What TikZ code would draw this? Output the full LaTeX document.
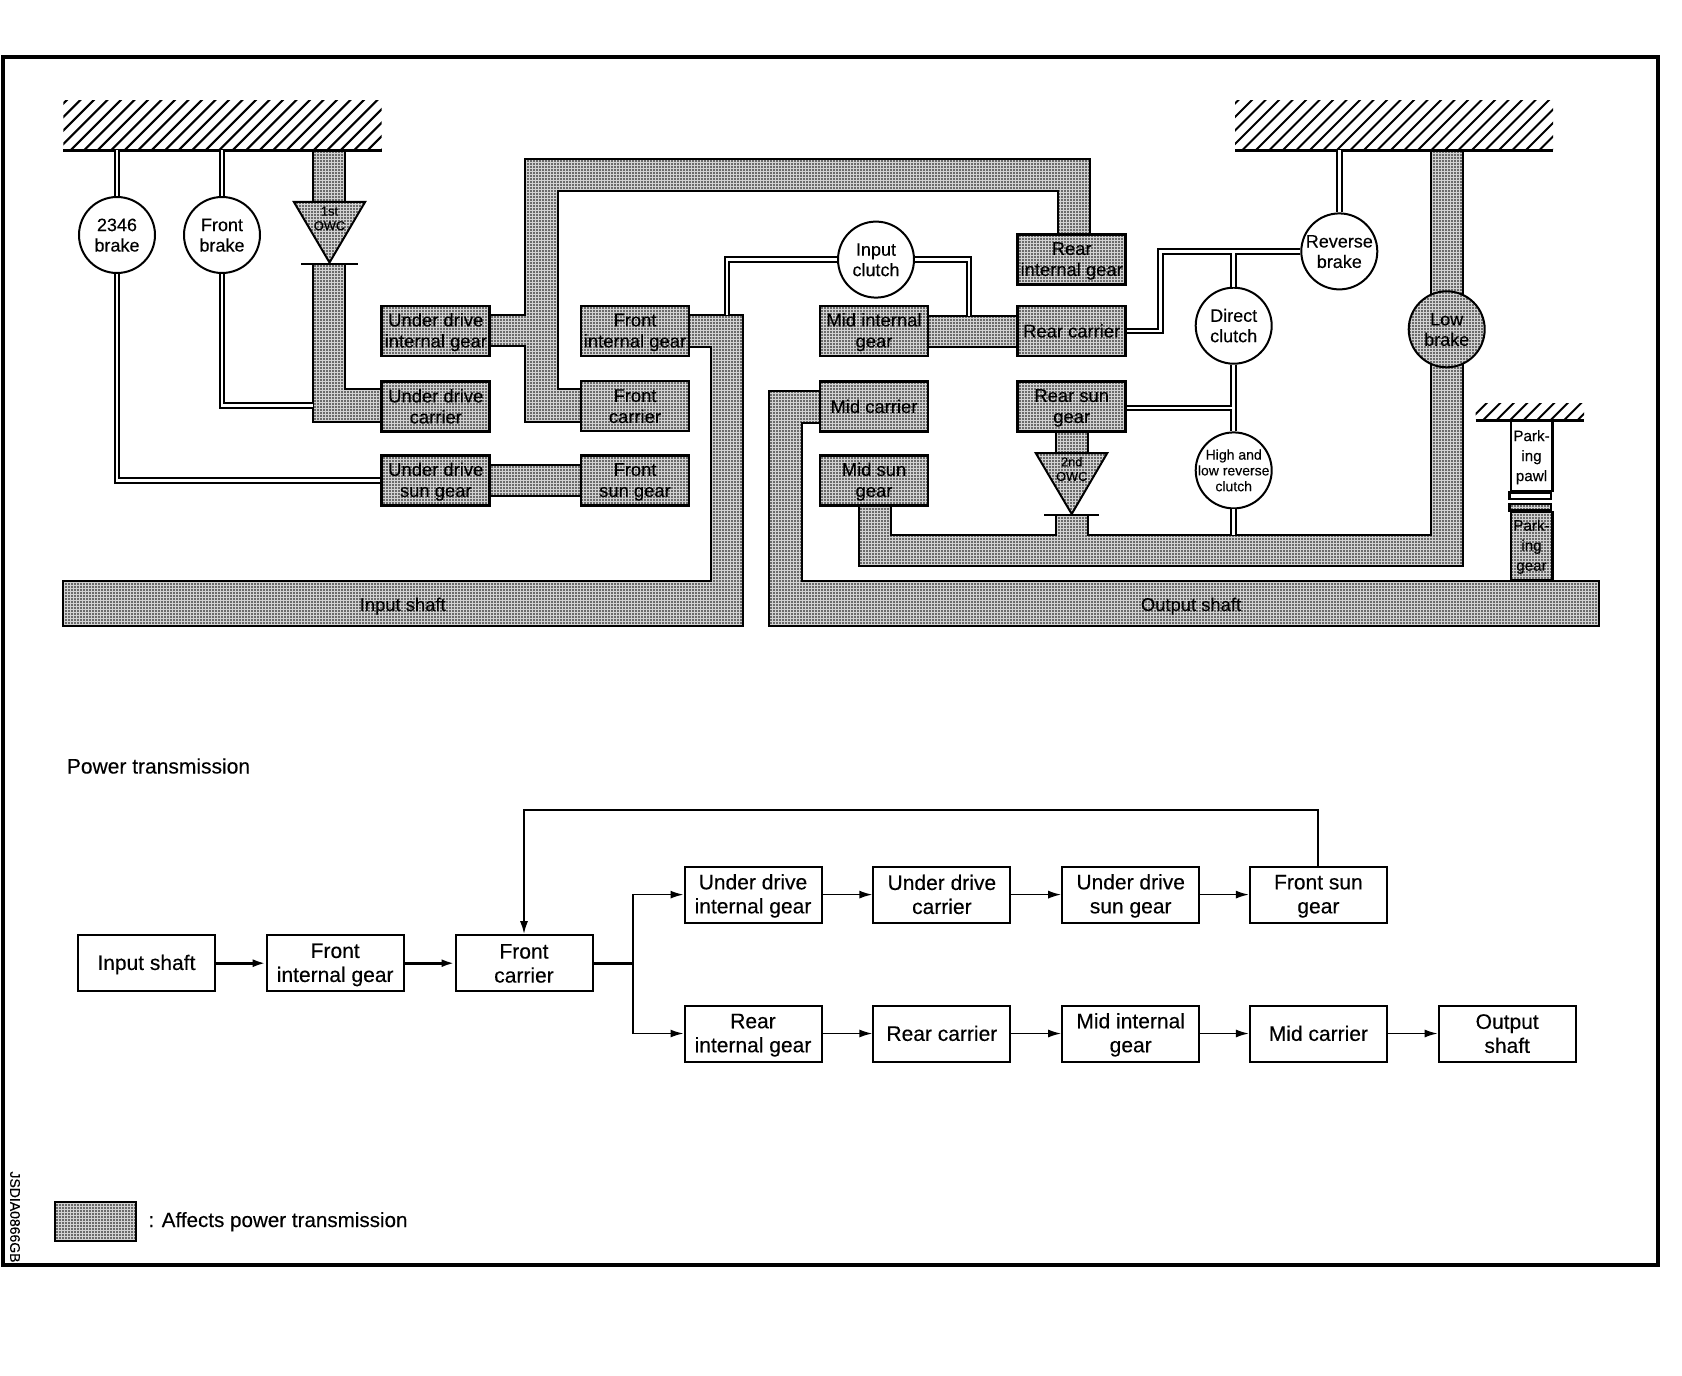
\documentclass[tikz,border=0pt]{standalone}
\usepackage{fontspec}
\setmainfont{Liberation Sans}[FakeBold=0.25]
\usetikzlibrary{arrows.meta,patterns.meta}
\tikzset{
  shaded/.style={preaction={fill=gray!35},pattern={Dots[distance=1.5pt,radius=.4pt]},
                 draw=black,line width=1pt},
  gearbox/.style={shaded,line width=1.4pt,inner sep=0pt,minimum width=54pt,minimum height=25pt,
                  align=center,font=\fontsize{9.2}{10.5}\selectfont},
  clutch/.style={circle,draw,fill=white,line width=1pt,inner sep=0pt,minimum size=38pt},
  cllabel/.style={align=center,inner sep=0pt,font=\fontsize{9}{10.2}\selectfont},
  dbl/.style={draw,double=white,double distance=1.3pt,line width=1pt},
  flowbox/.style={draw,line width=1pt,fill=white,inner sep=0pt,minimum width=68.5pt,minimum height=28pt,
                  align=center,font=\fontsize{10.5}{12}\selectfont},
  flow/.style={-{Latex[length=6.5pt,width=4pt]},line width=.8pt},
  flowthick/.style={-{Latex[length=6.5pt,width=4pt]},line width=1.5pt},
  lbl/.style={font=\fontsize{9.2}{10.5}\selectfont,align=center,inner sep=0pt},
  owc/.style={font=\fontsize{6.4}{7.3}\selectfont,align=center,inner sep=0pt},
  parkbox/.style={line width=1.2pt,inner sep=0pt,minimum width=20.8pt,minimum height=35pt,
                  align=center,font=\fontsize{7.6}{10}\selectfont}
}
\newcommand{\lnstrut}{\rule[-.15em]{0pt}{1em}}
\newcommand{\groundbar}[4]{
  \begin{scope}
    \clip (#1,#3) rectangle (#2,#4);
    \foreach \k in {0,...,30}{
      \draw[line width=1pt] ({#1-60+\k*13.5},#4) -- ++(60,-60);
    }
  \end{scope}
  \draw[line width=1.5pt] (#1,#4) -- (#2,#4);
}
\begin{document}
\begin{tikzpicture}[x=0.5pt,y=-0.5pt]
  \useasboundingbox (0,0) rectangle (1682,1376);
  \draw[line width=2pt] (3,57) rectangle (1658,1265);

  % Bands
  \draw[shaded] (312.5,150) rectangle (345,202);
  \draw[shaded] (312.5,264) -- (345,264) -- (345,389) -- (381.7,389) -- (381.7,421.8)
    -- (312.5,421.8) -- cycle;
  \draw[shaded] (490,315) -- (525.4,315) -- (525.4,159) -- (1090,159) -- (1090,233.6)
    -- (1058,233.6) -- (1058,191.4) -- (558,191.4) -- (558,389) -- (581,389) -- (581,421.8)
    -- (525.4,421.8) -- (525.4,346) -- (490,346) -- cycle;
  \draw[shaded] (490,464.6) rectangle (581,496);
  \draw[shaded] (928,316) rectangle (1017.7,347);
  \draw[shaded] (1055.7,432) rectangle (1088.3,453);
  % Input shaft
  \draw[shaded] (689,315) -- (743,315) -- (743,626) -- (62.5,626) -- (62.5,581) -- (710.7,581)
    -- (710.7,347) -- (689,347) -- cycle;
  % Output shaft
  \draw[shaded] (820,391) -- (769.3,391) -- (769.3,626) -- (1599,626) -- (1599,581) -- (802,581)
    -- (802,423) -- (820,423) -- cycle;
  % Low brake band
  \draw[shaded] (859,506) -- (891.3,506) -- (891.3,535.4) -- (1055.7,535.4) -- (1055.7,515)
    -- (1088.3,515) -- (1088.3,535.4) -- (1431.3,535.4) -- (1431.3,150) -- (1463.3,150)
    -- (1463.3,566) -- (859,566) -- cycle;
  \node[lbl] (inshaft) at (402.7,605) {\lnstrut Input shaft\lnstrut};
  \node[lbl] (outshaft) at (1191,605) {\lnstrut Output shaft\lnstrut};

  % One-way clutches
  \draw[shaded] (293.8,201.8) -- (365.2,201.8) -- (329.5,262.5) -- cycle;
  \draw[line width=1pt] (301,264) -- (358,264);
  \node[owc] (owcfirst) at (329.5,218.5) {1st\\OWC};
  \draw[shaded] (1035.7,453) -- (1107.3,453) -- (1071.7,514) -- cycle;
  \draw[line width=1pt] (1044,515) -- (1099,515);
  \node[owc] (owcsecond) at (1071.7,469) {2nd\\OWC};

  % Ground
  \groundbar{63.4}{381.7}{100}{150}
  \groundbar{1235}{1553}{100}{150}
  \groundbar{1475.7}{1584}{403}{420}
  \coordinate (gnd) at (0,150);

  % Gear boxes
  \foreach \nm/\x/\y/\txt in {udint/435.8/331/{Under drive\\internal gear},
      udcar/435.8/406.5/{Under drive\\carrier}, udsun/435.8/480.5/{Under drive\\sun gear},
      frint/635/331/{Front\\internal gear}, frcar/635/406/{Front\\carrier},
      frsun/635/480.5/{Front\\sun gear}, mdint/874/331/{Mid internal\\gear},
      mdcar/874/406.5/{Mid carrier}, mdsun/874/480.5/{Mid sun\\gear},
      reint/1071.7/259.5/{Rear\\internal gear}, recar/1071.7/331/{Rear carrier},
      resun/1071.7/406.5/{Rear sun\\gear}}{
    \node[gearbox] (\nm) at (\x,\y) {\lnstrut\txt\lnstrut};
  }

  % Clutches and brakes
  \foreach \nm/\x/\y/\txt in {brk2346/117/235/{2346\\brake}, brkfront/222/235/{Front\\brake},
      clinput/876/259.6/{Input\\clutch}, brkrev/1339.3/251.4/{Reverse\\brake},
      cldirect/1233.7/325.7/{Direct\\clutch}}{
    \node[clutch,label={[cllabel]center:{\lnstrut\txt\lnstrut}}] (\nm) at (\x,\y) {};
  }
  \node[clutch,label={[cllabel,font=\fontsize{7}{7.9}\selectfont]center:{High and\\low reverse\\clutch}}]
    (clhigh) at (1233.7,470.4) {};
  \node[clutch,shaded,label={[cllabel]center:{\lnstrut Low\\brake\lnstrut}}] (brklow) at (1446.7,329.3) {};

  % Double links
  \coordinate (frout) at (727,315);
  \coordinate (mdout) at (969,316);
  \coordinate (juncrev) at (1233.7,252);
  \coordinate (juncsun) at (1233.7,408);
  \coordinate (juncband) at (1233.7,535.4);
  \coordinate (udband) at (312.5,405.5);
  \draw[dbl] (brk2346.north) -- (brk2346.north |- gnd);
  \draw[dbl] (brkfront.north) -- (brkfront.north |- gnd);
  \draw[dbl] (brkrev.north) -- (brkrev.north |- gnd);
  \draw[dbl] (brk2346.south) |- (udsun.west);
  \draw[dbl] (brkfront.south) |- (udband);
  \draw[dbl] (frout) |- (clinput.west);
  \draw[dbl] (clinput.east) -| (mdout);
  \draw[dbl] (recar.east) -- ++(33.3,0) |- (brkrev.west)
    (juncrev) -- (cldirect.north);
  \draw[dbl] (cldirect.south) -- (clhigh.north)
    (resun.east |- juncsun) -- (juncsun);
  \draw[dbl] (clhigh.south) -- (juncband);

  % Parking
  \node[parkbox,draw,fill=white,anchor=north] (pawl) at (1531.5,420)
    {\lnstrut Park-\\ing\\pawl\lnstrut};
  \draw[line width=1.2pt,fill=white] (pawl.south west) rectangle ++(41.6,6.4);
  \node[parkbox,shaded,anchor=south,line width=1.2pt,minimum height=34pt] (parkgear) at (1531.5,581)
    {\lnstrut Park-\\ing\\gear\lnstrut};
  \draw[shaded,line width=1.2pt] (parkgear.north west) rectangle ++(41.6,-6.4);

  % Power transmission
  \node[anchor=west,inner sep=0pt,font=\fontsize{10.5}{12}\selectfont] (pwrtitle) at (66.5,766)
    {Power transmission};
  \foreach \nm/\x/\y/\txt in {pinput/146.4/963.2/{Input shaft}, pfrint/335.2/963.2/{Front\\internal gear},
      pfrcar/524/963.2/{Front\\carrier}, pudint/753/894.6/{Under drive\\internal gear},
      pudcar/941.9/894.6/{Under drive\\carrier}, pudsun/1130.7/894.6/{Under drive\\sun gear},
      pfrsun/1318.4/894.6/{Front sun\\gear}, preint/753/1033.5/{Rear\\internal gear},
      precar/941.9/1033.5/{Rear carrier}, pmdint/1130.7/1033.5/{Mid internal\\gear},
      pmdcar/1318.4/1033.5/{Mid carrier}, poutput/1507.2/1033.5/{Output\\shaft}}{
    \node[flowbox] (\nm) at (\x,\y) {\lnstrut\txt\lnstrut};
  }
  \coordinate (branch) at (633,963.2);
  \coordinate (looptop) at (0,810);
  \draw[flowthick] (pinput) -- (pfrint);
  \draw[flowthick] (pfrint) -- (pfrcar);
  \draw[line width=1.5pt] (pfrcar) -- (branch);
  \draw[flow] (branch) |- (pudint);
  \draw[flow] (branch) |- (preint);
  \foreach \a/\b in {pudint/pudcar, pudcar/pudsun, pudsun/pfrsun, preint/precar, precar/pmdint,
      pmdint/pmdcar, pmdcar/poutput}{
    \draw[flow] (\a) -- (\b);
  }
  \draw[flow,line width=1pt] (pfrsun.north) -- (pfrsun.north |- looptop) -| (pfrcar.north);

  % Legend
  \node[shaded,inner sep=0pt,minimum width=40.5pt,minimum height=19.5pt] (legend) at (95.5,1221.7) {};
  \node[anchor=west,inner sep=0pt,font=\fontsize{10.3}{12}\selectfont] (legendtxt) at (148,1221.7)
    {: Affects power transmission};
  \node[rotate=-90,inner sep=0pt,font=\fontsize{7}{8}\selectfont] (figcode) at (15,1217) {JSDIA0866GB};
\end{tikzpicture}
\end{document}
